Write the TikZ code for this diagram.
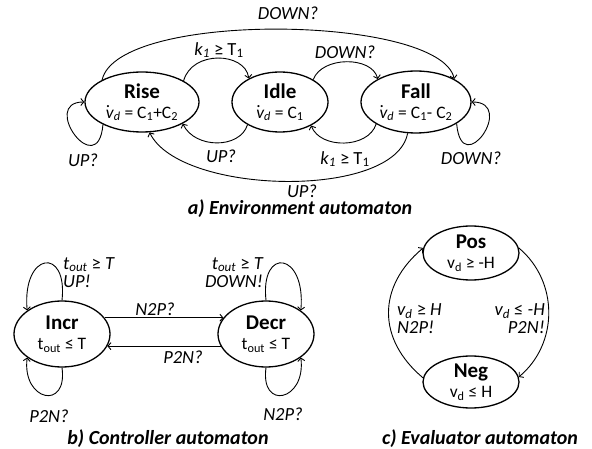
\documentclass[tikz,border=0pt]{standalone}
\usepackage{fontspec}
\setmainfont{Carlito}
\usepackage{tikz}
\usetikzlibrary{arrows.meta, shapes.geometric}
\newcommand{\lblfont}{\fontsize{18.5}{18}\selectfont}
\newcommand{\capfont}{\fontsize{20}{22}\selectfont\bfseries\itshape}
\newcommand{\stname}[1]{{\fontsize{21}{20}\selectfont\bfseries #1}}
\newcommand{\subs}[1]{\textsubscript{#1}}
\newcommand{\vdotd}{\makebox[0pt][l]{\raisebox{0.6em}{.}}\textit{v\subs{d}}}
\tikzset{
  % States
  state/.style  = {ellipse, draw, line width=1.3pt, inner sep=0pt, align=center,
                   font=\fontsize{17.5}{20}\selectfont},
  % Transitions
  trans/.style  = {line width=0.9pt, -{Straight Barb[length=3pt,width=7pt]}},
  % Labels
  lab/.style    = {font=\lblfont\itshape, inner sep=0pt},
  figcap/.style = {font=\capfont, inner sep=0pt},
}
\begin{document}
\begin{tikzpicture}[x=1pt, y=-1pt]
  \useasboundingbox (0,0) rectangle (592,449);
  % a) Environment automaton
  \node[state, minimum width=114, minimum height=60] (rise) at (142,102)
    {\stname{Rise}\\ \vdotd{} = C\subs{1}+C\subs{2}};
  \node[state, minimum width=96, minimum height=60] (idle) at (280,102)
    {\stname{Idle}\\ \vdotd{} = C\subs{1}};
  \node[state, minimum width=110, minimum height=62] (fall) at (416,102)
    {\stname{Fall}\\ \vdotd{} = C\subs{1}- C\subs{2}};
  \draw[trans] (rise.151) .. controls (118,10) and (440,15) .. (fall.31);
  \draw[trans] (rise.27) .. controls (192,50) and (245,52) .. (idle.143);
  \draw[trans] (idle.34) .. controls (322,56) and (372,56) .. (fall.149);
  \draw[trans] (idle.215) .. controls (240,149) and (195,149) .. (rise.332);
  \draw[trans] (fall.209) .. controls (368,149) and (320,149) .. (idle.323);
  \draw[trans] (fall.255) .. controls (395,200) and (180,195) .. (rise.284);
  \draw[trans] (rise.210) .. controls +(-5,58) and +(-45,0) .. (rise.180);
  \draw[trans] (fall.332) .. controls +(5,58) and +(45,0) .. (fall.0);
  \node[lab] (lDownTop) at (288,13) {DOWN?};
  \node[lab] (lRiseIdle) at (219,50) {k\subs{1} \upshape≥ T\subs{1}};
  \node[lab] (lIdleFall) at (345,52) {DOWN?};
  \node[lab] (lIdleRise) at (221,156) {UP?};
  \node[lab] (lFallIdle) at (345,159) {k\subs{1} \upshape≥ T\subs{1}};
  \node[lab] (lUpBot) at (302,191) {UP?};
  \node[lab] (lRiseLoop) at (83,160) {UP?};
  \node[lab] (lFallLoop) at (471,158) {DOWN?};
  \node[figcap] (capA) at (300,209) {a) Environment automaton};
  % b) Controller automaton
  \node[state, minimum width=96, minimum height=66] (incr) at (62,334)
    {\stname{Incr}\\ t\subs{out} ≤ T};
  \node[state, minimum width=96, minimum height=66] (decr) at (266,334)
    {\stname{Decr}\\ t\subs{out} ≤ T};
  \draw[trans] (incr.21) -- (decr.159);
  \draw[trans] (decr.195) -- (incr.345);
  \draw[trans] (incr.90) .. controls (68,246) and (22,252) .. (incr.146);
  \draw[trans] (incr.270) .. controls (68,411) and (22,401) .. (incr.214);
  \draw[trans] (decr.90) .. controls (260,246) and (306,252) .. (decr.34);
  \draw[trans] (decr.270) .. controls (260,411) and (306,401) .. (decr.326);
  \node[lab] (lN2P) at (155,309) {N2P?};
  \node[lab] (lP2N) at (183,357) {P2N?};
  \node[lab, anchor=west, align=left] (lIncrTop) at (63,272.5)
    {t\subs{out} \upshape≥ \itshape T\\ UP!};
  \node[lab, anchor=east, align=right] (lDecrTop) at (263,272.5)
    {t\subs{out} \upshape≥ \itshape T\\ DOWN!};
  \node[lab] (lIncrBot) at (49,416) {P2N?};
  \node[lab] (lDecrBot) at (283,414) {N2P?};
  \node[figcap] (capB) at (168,439) {b) Controller automaton};
  % c) Evaluator automaton
  \node[state, minimum width=96, minimum height=54] (pos) at (471,253)
    {\stname{Pos}\\ v\subs{d} ≥ -H};
  \node[state, minimum width=96, minimum height=52] (neg) at (471,382)
    {\stname{Neg}\\ v\subs{d} ≤ H};
  \draw[trans] (neg.175) to[out=140, in=220, distance=60] (pos.174);
  \draw[trans] (pos.6) to[out=320, in=40, distance=52] (neg.6);
  \node[lab, anchor=west, align=left] (lNegPos) at (397,318.5)
    {v\subs{d} \upshape≥ \itshape H\\ N2P!};
  \node[lab, anchor=east, align=right] (lPosNeg) at (545,318.5)
    {v\subs{d} \upshape≤ \itshape -H\\ P2N!};
  \node[figcap] (capC) at (480,439) {c) Evaluator automaton};
\end{tikzpicture}
\end{document}
